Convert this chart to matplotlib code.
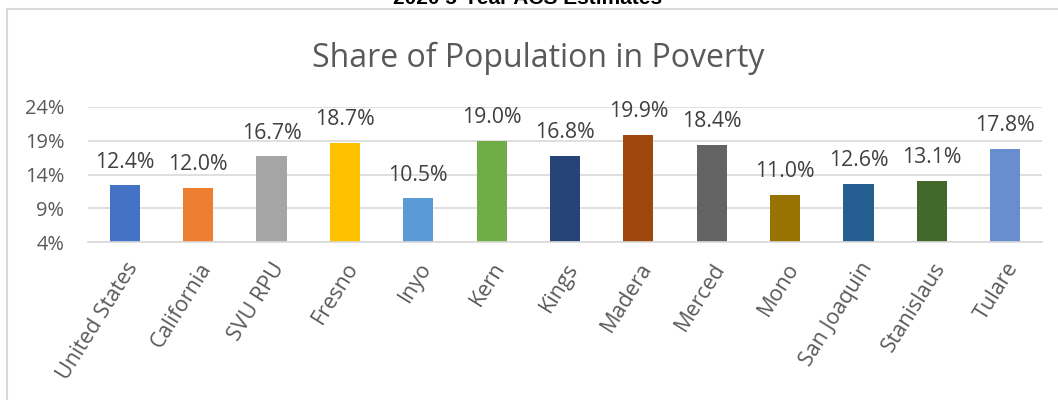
import matplotlib
matplotlib.use("Agg")
import matplotlib.pyplot as plt
from matplotlib.patches import Rectangle
import numpy as np

# poverty share by area, 2020 5-year ACS
areas = ["United States", "California", "SVU RPU", "Fresno", "Inyo", "Kern", "Kings",
         "Madera", "Merced", "Mono", "San Joaquin", "Stanislaus", "Tulare"]
poverty_pct = [12.4, 12.0, 16.7, 18.7, 10.5, 19.0, 16.8, 19.9, 18.4, 11.0, 12.6, 13.1, 17.8]
y_ticks = [4, 9, 14, 19, 24]

colors = ["#4472C4", "#ED7D31", "#A5A5A5", "#FFC000", "#5B9BD5", "#70AD47", "#264478",
          "#9E480E", "#636363", "#997300", "#255E91", "#43682B", "#698ED0"]

plt.rcParams['font.family'] = ['Open Sans', 'DejaVu Sans']

fig = plt.figure(figsize=(10.58, 4.0), dpi=100)

# chart border (cut off right and bottom)
fig.patches.append(Rectangle((7/1058, -0.05), 1.1, 1 - 9/400 + 0.05, transform=fig.transFigure,
                             fill=False, edgecolor="#D9D9D9", linewidth=1.5))

fig.text(528/1058, 1 - 4/400, "2020 5-Year ACS Estimates", ha="center", va="baseline",
         fontsize=15, fontweight="bold", family="Liberation Sans", color="black")

fig.text(538/1058, 1 - 67/400, "Share of Population in Poverty", ha="center", va="baseline",
         fontsize=23, color="#595959")

ax = fig.add_axes([88/1058, 1 - 242/400, (1042 - 88)/1058, (242 - 107)/400])
x = np.arange(len(areas))
bars = ax.bar(x, poverty_pct, width=0.41, color=colors, zorder=2)

for xi, v in zip(x, poverty_pct):
    ax.annotate(f"{v:.1f}%", (xi, v), xytext=(0, 9), textcoords="offset points",
                ha="center", va="bottom", fontsize=15.3, color="#404040")

ax.set_xlim(-0.5, len(areas) - 0.5)
ax.set_ylim(4, 24)
ax.set_yticks(y_ticks)
ax.set_yticklabels([f"{t}%" for t in y_ticks], fontsize=14.4, color="#595959")
ax.set_xticks(x)
ax.set_xticklabels(areas, rotation=58, ha="right", rotation_mode="anchor",
                   fontsize=15.5, color="#595959")
ax.tick_params(length=0)
ax.tick_params(axis="x", pad=12)
ax.tick_params(axis="y", pad=17)
ax.grid(axis="y", color="#D9D9D9", linewidth=1.2, zorder=0)
for s in ["top", "right", "left"]:
    ax.spines[s].set_visible(False)
ax.spines["bottom"].set_color("#D9D9D9")
ax.spines["bottom"].set_linewidth(1.2)

fig.savefig("out.png", dpi=100)
